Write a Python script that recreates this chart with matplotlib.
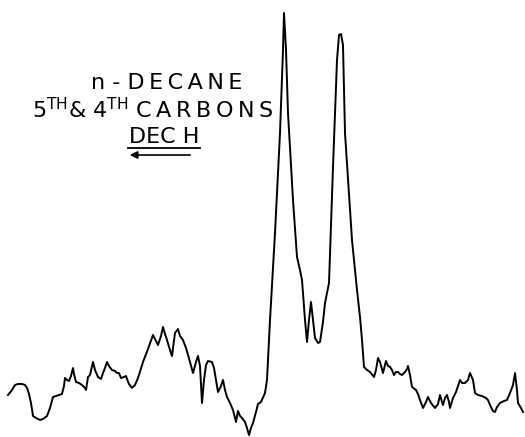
import matplotlib.pyplot as plt

# trace (position, pen height)
pos = [8, 12, 15, 18, 22, 25, 27, 29, 31, 33, 36, 40, 43, 47, 50, 53, 56, 59, 62, 64,
       65, 67, 69, 71, 73, 74, 76, 79, 82, 85, 86, 88, 90, 93, 95, 98, 101, 103, 105, 107,
       109, 112, 115, 117, 119, 121, 124, 126, 127, 129, 132, 135, 138, 143, 148, 153, 156, 158, 161, 163,
       165, 167, 170, 172, 174, 175, 178, 180, 183, 186, 190, 193, 196, 198, 200, 202, 204, 206, 208, 212,
       214, 216, 218, 221, 223, 225, 227, 230, 233, 235, 236, 238, 240, 242, 245, 247, 249, 251, 253, 256,
       258, 261, 265, 267, 270, 275, 280, 283, 284, 286, 288, 293, 297, 300, 302, 305, 307, 309, 311, 313,
       315, 318, 320, 323, 325, 329, 333, 337, 339, 341, 343, 345, 352, 357, 360, 362, 364, 367, 370, 374,
       376, 378, 380, 383, 385, 386, 388, 390, 392, 394, 396, 398, 400, 402, 405, 407, 408, 410, 412, 416,
       418, 420, 423, 426, 428, 431, 435, 438, 440, 442, 443, 445, 447, 449, 450, 453, 456, 460, 462, 465,
       468, 470, 473, 475, 478, 482, 486, 488, 490, 493, 495, 497, 500, 504, 507, 510, 513, 515, 517, 518,
       521, 523]
height = [45, 50, 55, 56, 56, 55, 52, 46, 37, 24, 22, 20, 21, 24, 32, 43, 44, 45, 46, 54,
          62, 60, 59, 64, 72, 66, 58, 57, 55, 52, 50, 63, 65, 78, 70, 63, 61, 67, 72, 78,
          74, 70, 69, 67, 67, 62, 63, 64, 61, 56, 52, 55, 62, 78, 91, 105, 99, 95, 104, 113,
          106, 100, 90, 84, 99, 107, 111, 104, 100, 92, 78, 67, 78, 84, 74, 37, 60, 75, 79, 78,
          72, 60, 48, 54, 60, 50, 43, 37, 30, 22, 18, 29, 24, 22, 18, 12, 5, 12, 17, 28,
          36, 38, 47, 60, 120, 207, 307, 390, 427, 390, 327, 240, 183, 170, 160, 120, 98, 120, 138, 120,
          102, 97, 98, 118, 137, 157, 273, 380, 405, 406, 395, 307, 200, 150, 123, 100, 73, 70, 68, 63,
          70, 82, 78, 67, 75, 79, 74, 73, 70, 65, 68, 68, 66, 65, 68, 71, 74, 65, 53, 50,
          46, 40, 32, 38, 43, 37, 32, 36, 45, 38, 35, 42, 45, 38, 32, 42, 48, 60, 57, 57,
          60, 67, 60, 47, 45, 44, 42, 40, 35, 29, 28, 33, 37, 39, 40, 47, 55, 67, 50, 37,
          32, 28]

fig = plt.figure(figsize=(5.25, 4.37), dpi=100)
ax = fig.add_axes([0, 0, 1, 1])
ax.plot(pos, height, color='black', linewidth=1.4)
ax.set_xlim(0, 525)
ax.set_ylim(3, 440)
ax.axis('off')

# label block, letters spread out a little like the hand lettering
ts = '\u2009'
ax.text(167, 357, 'n - ' + ts.join('DECANE'), ha='center', va='center', fontsize=16)
ax.text(153, 330, r'5$^{\mathrm{TH}}$& 4$^{\mathrm{TH}}$ ' + ts.join('CARBONS'),
        ha='center', va='center', fontsize=16)
ax.text(164, 303, 'DEC H', ha='center', va='center', fontsize=16)
ax.plot([128, 200], [292, 292], color='black', linewidth=1.3)
ax.annotate('', xy=(127, 285), xytext=(193, 285),
            arrowprops=dict(arrowstyle='-|>', color='black', lw=1.2, mutation_scale=11))

plt.savefig('out.png', dpi=100)
